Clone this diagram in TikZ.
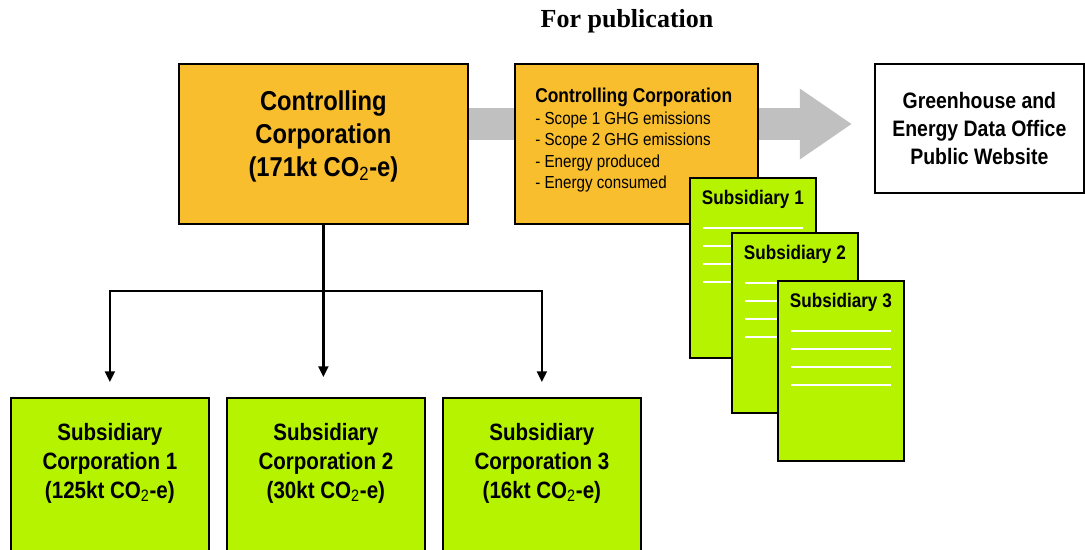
\documentclass[tikz,border=0pt]{standalone}
\usepackage{fontspec}
\setmainfont{Liberation Sans}[FakeStretch=0.87]
\newfontfamily\headfont{Liberation Serif}
\usetikzlibrary{arrows.meta, positioning, calc, backgrounds}

\definecolor{corpOrange}{RGB}{249,190,46}
\definecolor{subGreen}{RGB}{182,243,0}
\definecolor{flowGrey}{RGB}{192,192,192}

\begin{document}
\begin{tikzpicture}[
  x=0.025cm, y=-0.025cm,
  >={Triangle[length=7.5pt, width=7pt]},
  corp/.style={draw, line width=1.2pt, fill=corpOrange, anchor=north west, minimum height=4cm, inner sep=0pt},
  subbox/.style={draw, line width=1.2pt, fill=subGreen, anchor=north west, minimum width=4.95cm, minimum height=4.5cm, inner sep=0pt},
  docpage/.style={draw, line width=1.2pt, fill=subGreen, anchor=north west, minimum width=3.15cm, minimum height=4.5cm, inner sep=0pt},
  site/.style={draw, line width=1.2pt, fill=white, anchor=north west, minimum width=5.225cm, minimum height=3.225cm, align=center, font=\fontsize{15.9}{19.9}\selectfont\bfseries},
  headtext/.style={inner sep=0pt, font=\headfont\fontsize{18.5}{20}\selectfont\bfseries},
  bigtext/.style={inner sep=0pt, align=center, font=\fontsize{19.4}{23.5}\selectfont\bfseries},
  subtext/.style={inner sep=0pt, align=center, font=\fontsize{16.8}{20.6}\selectfont\bfseries},
  listtext/.style={inner sep=0pt, align=left, font=\fontsize{12.4}{15.3}\selectfont},
  doctext/.style={inner sep=0pt, font=\fontsize{14}{16}\selectfont\bfseries},
  rule/.style={white, line width=1.2pt},
  arrow/.style={->, line width=1.6pt},
  flow/.style={flowGrey, line width=22.8pt, -{Triangle[length=37pt, width=47.6pt]}, shorten >=0.55cm}
]
\useasboundingbox (0,0) rectangle (1085,549);
\clip (0,0) rectangle (1085,549);

\node[headtext] (title) at (627,21) {For publication};

% controlling corporation and what gets published
\node[corp, minimum width=7.225cm] (ctrl) at (178,63) {};
\node[bigtext, below=0.675cm of ctrl.north] (ctrllbl) {Controlling\\Corporation\\(171kt CO{\mdseries\textsubscript{2}}-e)};
\node[corp, minimum width=6.075cm] (info) at (514,63) {};
\node[listtext, below right=0.625cm and 0.525cm of info.north west] (infolbl) {{\bfseries\fontsize{14.2}{15.3}\selectfont Controlling Corporation}\\- Scope 1 GHG emissions\\- Scope 2 GHG emissions\\- Energy produced\\- Energy consumed};
\node[site] (ghg) at (874,63) {Greenhouse and\\Energy Data Office\\Public Website};

% stacked subsidiary reports
\foreach \i/\x/\y in {1/689/177, 2/731/232, 3/777/280} {
  \node[docpage] (doc\i) at (\x,\y) {};
  \node[doctext, below=0.325cm of doc\i.north] (doclbl\i) {Subsidiary \i};
  \foreach \k in {0,...,3}
    \draw[rule] ($(doc\i.north west)+(14,51+18*\k)$) -- ($(doc\i.north east)+(-14,51+18*\k)$);
}

% subsidiary corporations
\foreach \i/\x/\kt in {1/10/125, 2/226/30, 3/442/16} {
  \node[subbox] (sub\i) at (\x,397) {};
  \node[subtext, below=0.65cm of sub\i.north] (sublbl\i) {Subsidiary\\Corporation \i\\(\kt kt CO{\mdseries\textsubscript{2}}-e)};
}

\coordinate (bus) at (0,291);
\coordinate (flowY) at (0,124);
\draw[arrow, shorten >=0.5cm] (ctrl.south) -- (ctrl.south |- sub2.north);
\draw[arrow, shorten >=0.375cm] (ctrl.south |- bus) -- (sub1.north |- bus) -- (sub1.north);
\draw[arrow, shorten >=0.375cm] (ctrl.south |- bus) -- (sub3.north |- bus) -- (sub3.north);

\begin{scope}[on background layer]
\draw[flow] (ctrl.east |- flowY) -- (ghg.west |- flowY);
\end{scope}
\end{tikzpicture}
\end{document}
